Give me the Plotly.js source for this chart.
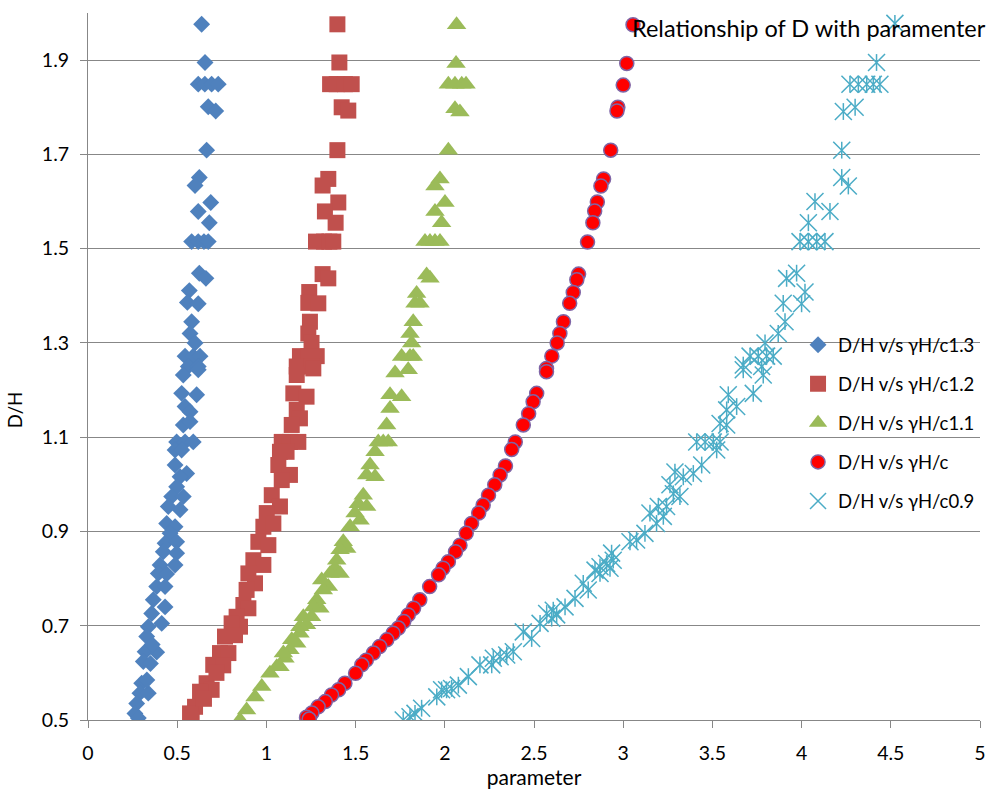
<!DOCTYPE html>
<html>
<head>
<meta charset="utf-8">
<script src="https://cdn.plot.ly/plotly-3.0.1.min.js"></script>
<style>
  html, body { margin: 0; padding: 0; background: #fff; }
  #chart { width: 992px; height: 790px; }
</style>
</head>
<body>
<div id="chart"></div>
<script>
// ---------- data ----------
const seriesNames = ["D/H v/s γH/c1.3", "D/H v/s γH/c1.2", "D/H v/s γH/c1.1", "D/H v/s γH/c", "D/H v/s γH/c0.9"];

const blueX = [0.637,0.656,0.618,0.655,0.693,0.730,0.674,0.716,0.665,0.624,0.600,0.688,0.618,0.680,0.581,0.618,0.650,0.674,0.624,0.661,0.568,0.557,0.618,0.581,0.572,0.600,0.544,0.590,0.628,0.562,0.618,0.534,0.618,0.525,0.609,0.544,0.572,0.534,0.572,0.497,0.544,0.590,0.488,0.525,0.488,0.553,0.516,0.497,0.469,0.534,0.450,0.516,0.441,0.488,0.460,0.432,0.497,0.422,0.497,0.404,0.488,0.394,0.441,0.385,0.432,0.366,0.432,0.357,0.413,0.338,0.329,0.320,0.385,0.310,0.301,0.291,0.338,0.273,0.263,0.282,0.330,0.350,0.360];
const blueY = [1.976,1.895,1.849,1.849,1.849,1.849,1.801,1.792,1.709,1.651,1.634,1.598,1.579,1.555,1.515,1.515,1.515,1.515,1.448,1.437,1.411,1.386,1.383,1.345,1.320,1.300,1.272,1.272,1.272,1.250,1.250,1.232,1.243,1.193,1.190,1.165,1.154,1.126,1.133,1.090,1.090,1.090,1.073,1.073,1.041,1.023,1.016,0.995,0.974,0.974,0.953,0.946,0.917,0.910,0.896,0.875,0.878,0.857,0.854,0.829,0.829,0.811,0.810,0.783,0.783,0.755,0.740,0.726,0.705,0.698,0.677,0.645,0.644,0.624,0.578,0.557,0.557,0.535,0.514,0.504,0.585,0.620,0.660];

const redX = [1.398,1.409,1.357,1.394,1.440,1.478,1.422,1.459,1.398,1.347,1.315,1.403,1.328,1.388,1.278,1.323,1.353,1.375,1.315,1.347,1.240,1.235,1.291,1.244,1.235,1.253,1.188,1.235,1.282,1.170,1.253,1.170,1.263,1.151,1.225,1.170,1.188,1.142,1.086,1.132,1.179,1.076,1.113,1.067,1.132,1.086,1.030,1.076,1.002,0.983,1.039,0.955,1.011,0.927,0.983,0.899,0.936,0.889,0.871,0.899,0.833,0.852,0.805,0.768,0.824,0.740,0.787,0.702,0.758,0.665,0.693,0.628,0.600,0.572,0.581,0.720,0.650];
const redY = [1.976,1.895,1.849,1.849,1.849,1.849,1.800,1.793,1.709,1.648,1.634,1.598,1.579,1.555,1.515,1.515,1.515,1.515,1.446,1.437,1.408,1.385,1.384,1.345,1.320,1.300,1.272,1.272,1.272,1.250,1.250,1.232,1.246,1.193,1.186,1.158,1.140,1.126,1.090,1.090,1.090,1.069,1.069,1.041,1.020,1.009,0.977,0.953,0.939,0.910,0.917,0.878,0.871,0.839,0.829,0.811,0.790,0.776,0.744,0.737,0.719,0.698,0.705,0.677,0.680,0.642,0.642,0.617,0.616,0.578,0.564,0.560,0.528,0.514,0.500,0.600,0.545];

const greenX = [2.066,2.063,2.020,2.057,2.095,2.119,2.057,2.085,2.020,1.973,1.945,2.001,1.945,1.982,1.889,1.917,1.945,1.973,1.898,1.917,1.842,1.833,1.861,1.823,1.805,1.814,1.758,1.805,1.823,1.721,1.795,1.693,1.758,1.693,1.674,1.627,1.655,1.683,1.609,1.581,1.609,1.562,1.543,1.515,1.562,1.497,1.525,1.469,1.431,1.450,1.413,1.394,1.385,1.357,1.413,1.347,1.319,1.310,1.282,1.300,1.263,1.253,1.207,1.225,1.188,1.188,1.170,1.142,1.132,1.104,1.095,1.076,1.058,1.020,0.974,0.936,0.889,0.852];
const greenY = [1.975,1.893,1.849,1.849,1.849,1.849,1.797,1.790,1.709,1.648,1.633,1.598,1.579,1.555,1.515,1.515,1.515,1.515,1.444,1.437,1.405,1.384,1.384,1.345,1.320,1.300,1.271,1.271,1.271,1.236,1.243,1.190,1.186,1.161,1.126,1.090,1.090,1.090,1.069,1.041,1.016,1.020,0.977,0.959,0.953,0.939,0.924,0.910,0.878,0.864,0.861,0.839,0.822,0.811,0.811,0.783,0.776,0.797,0.755,0.737,0.740,0.719,0.719,0.702,0.698,0.684,0.663,0.670,0.649,0.631,0.642,0.613,0.613,0.599,0.571,0.549,0.521,0.500];

const circX = [3.055,3.020,3.000,2.970,2.965,2.930,2.890,2.875,2.855,2.840,2.830,2.800,2.750,2.740,2.720,2.700,2.665,2.645,2.630,2.600,2.570,2.570,2.515,2.495,2.470,2.440,2.395,2.375,2.340,2.310,2.280,2.245,2.215,2.190,2.150,2.120,2.085,2.060,2.020,1.990,1.965,1.915,1.860,1.825,1.795,1.770,1.740,1.710,1.675,1.635,1.600,1.560,1.535,1.500,1.440,1.405,1.365,1.330,1.290,1.255,1.225,1.240];
const circY = [1.975,1.893,1.847,1.800,1.792,1.709,1.648,1.633,1.599,1.580,1.555,1.514,1.446,1.434,1.407,1.384,1.345,1.320,1.300,1.272,1.246,1.239,1.193,1.175,1.150,1.126,1.090,1.074,1.039,1.020,0.999,0.977,0.956,0.939,0.917,0.896,0.871,0.857,0.836,0.822,0.808,0.783,0.755,0.737,0.723,0.709,0.695,0.684,0.670,0.656,0.642,0.627,0.617,0.599,0.578,0.564,0.553,0.539,0.528,0.515,0.506,0.502];

const cyanX = [4.523,4.420,4.271,4.318,4.365,4.402,4.439,4.234,4.300,4.225,4.225,4.262,4.075,4.159,4.038,3.991,4.038,4.085,4.131,3.916,3.972,4.019,3.897,4.000,3.907,3.869,3.795,3.711,3.757,3.804,3.841,3.673,3.776,3.785,3.673,3.589,3.729,3.636,3.580,3.543,3.580,3.412,3.459,3.505,3.543,3.524,3.440,3.393,3.290,3.337,3.262,3.281,3.318,3.243,3.197,3.150,3.225,3.187,3.075,3.038,3.122,2.935,2.944,2.907,2.870,2.842,2.926,2.870,2.776,2.804,2.730,2.608,2.571,2.627,2.599,2.674,2.534,2.487,2.440,2.384,2.347,2.310,2.272,2.263,2.197,2.132,2.076,2.038,2.010,1.982,1.955,1.870,1.833,1.805,1.767];
const cyanY = [1.978,1.895,1.849,1.849,1.849,1.849,1.849,1.791,1.800,1.709,1.651,1.633,1.600,1.579,1.555,1.515,1.515,1.515,1.515,1.437,1.448,1.408,1.384,1.383,1.345,1.320,1.300,1.272,1.272,1.272,1.272,1.253,1.250,1.232,1.243,1.190,1.193,1.165,1.158,1.129,1.126,1.090,1.090,1.090,1.090,1.073,1.041,1.023,1.026,1.016,0.999,0.980,0.974,0.953,0.953,0.939,0.932,0.917,0.882,0.878,0.896,0.854,0.839,0.832,0.825,0.818,0.822,0.811,0.790,0.776,0.758,0.733,0.726,0.723,0.716,0.740,0.705,0.673,0.687,0.645,0.638,0.634,0.631,0.617,0.617,0.592,0.574,0.567,0.564,0.564,0.549,0.525,0.514,0.507,0.500];

const chartTitle = "Relationship of D with paramenter";
const xTitle = "parameter";
const yTitle = "D/H";

// ---------- styles ----------
const FONT = "Lato, 'Open Sans', sans-serif";
const GRID = "#878787";

const traces = [
  { x: blueX, y: blueY, name: seriesNames[0], legendgroup: "g1", type: "scatter", mode: "markers",
    marker: { symbol: "diamond", size: 13, color: "#4F81BD" } },
  { x: redX, y: redY, name: seriesNames[1], legendgroup: "g2", type: "scatter", mode: "markers",
    marker: { symbol: "square", size: 16, color: "#C0504D" } },
  { x: greenX, y: greenY, name: seriesNames[2], legendgroup: "g3", type: "scatter", mode: "markers",
    marker: { symbol: "triangle-up", size: 17, color: "#9BBB59" } },
  { x: circX, y: circY, name: seriesNames[3], legendgroup: "g4", type: "scatter", mode: "markers",
    marker: { symbol: "circle", size: 14, color: "#FF0000", line: { color: "#7F65A6", width: 1.5 } } },
  { x: cyanX, y: cyanY, name: seriesNames[4], legendgroup: "g5", type: "scatter", mode: "markers",
    marker: { symbol: "x-thin-open", size: 17, color: "#4BACC6", line: { color: "#4BACC6", width: 1.5 } } },
  { x: cyanX, y: cyanY, name: seriesNames[4], legendgroup: "g5", showlegend: false, type: "scatter", mode: "markers",
    marker: { symbol: "line-ns-open", size: 12, color: "#4BACC6", line: { color: "#4BACC6", width: 1.5 } } }
];

const layout = {
  width: 992, height: 790,
  margin: { l: 88, r: 12, t: 13, b: 70 },
  paper_bgcolor: "#fff", plot_bgcolor: "#fff",
  font: { family: FONT, size: 19, color: "#000" },
  showlegend: true,
  legend: {
    x: 0.796, xanchor: "left", y: 0.557, yanchor: "top",
    bgcolor: "rgba(0,0,0,0)", borderwidth: 0,
    traceorder: "grouped", tracegroupgap: 12,
    font: { family: FONT, size: 18.5, color: "#000" }
  },
  xaxis: {
    range: [0, 5], tick0: 0, dtick: 0.5, showgrid: false, zeroline: false,
    showline: true, linecolor: GRID, linewidth: 1,
    ticks: "outside", ticklen: 7, tickcolor: GRID, tickwidth: 1,
    ticklabelstandoff: 9,
    tickfont: { family: FONT, size: 19.5, color: "#000" },
    title: { text: xTitle, font: { family: FONT, size: 21, color: "#000" }, standoff: 4 }
  },
  yaxis: {
    range: [0.5, 2.0], tick0: 0.5, dtick: 0.2, showgrid: true, gridcolor: GRID, gridwidth: 1,
    zeroline: false, showline: true, linecolor: GRID, linewidth: 1,
    ticks: "outside", ticklen: 7, tickcolor: GRID, tickwidth: 1,
    ticklabelstandoff: 7,
    tickfont: { family: FONT, size: 19.5, color: "#000" }
  },
  annotations: [
    { text: chartTitle, xref: "paper", yref: "paper", x: 1.009, y: 0.979,
      xanchor: "right", yanchor: "middle", showarrow: false,
      font: { family: FONT, size: 23.5, color: "#000" } },
    { text: yTitle, xref: "paper", yref: "paper", x: -0.082, y: 0.438,
      xanchor: "center", yanchor: "middle", textangle: -90, showarrow: false,
      font: { family: FONT, size: 18.5, color: "#000" } }
  ]
};

Plotly.newPlot("chart", traces, layout, { displayModeBar: false, staticPlot: true });
</script>
</body>
</html>
